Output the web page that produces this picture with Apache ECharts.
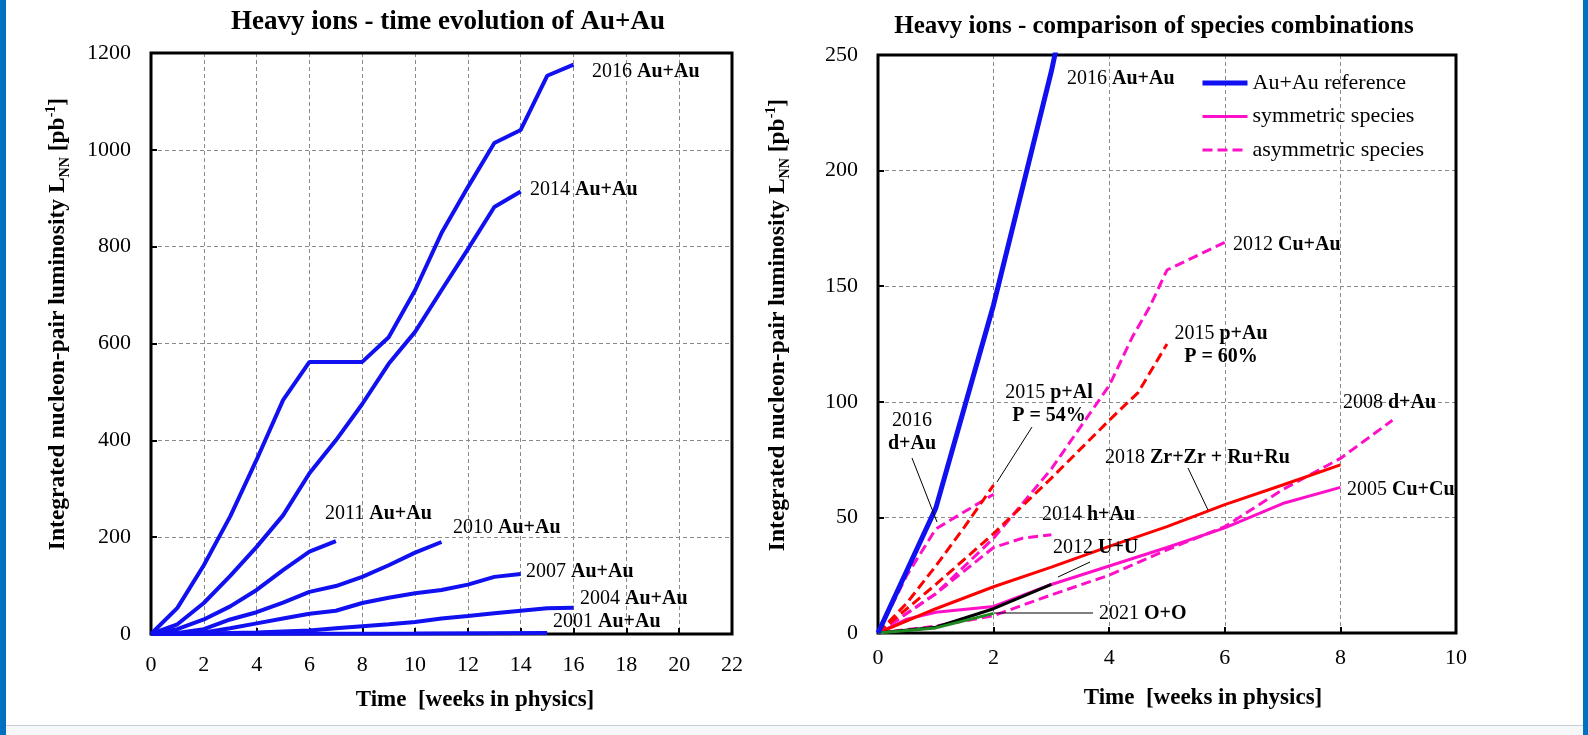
<!DOCTYPE html>
<html><head><meta charset="utf-8">
<script src="https://cdn.jsdelivr.net/npm/echarts@6/dist/echarts.min.js"></script>
<style>html,body{margin:0;padding:0;background:#fff}#c{width:1588px;height:735px}</style>
</head><body><div id="c"></div>
<script>
// ---------- tick labels ----------
const leftXTicks = [0,2,4,6,8,10,12,14,16,18,20,22];
const leftYTicks = [0,200,400,600,800,1000,1200];
const rightXTicks = [0,2,4,6,8,10];
const rightYTicks = [0,50,100,150,200,250];

// ---------- left chart: Au+Au runs [week, pb^-1] ----------
const au2016 = [[0,0],[1,54],[2,142],[3,243],[4,360],[5,483],[6,562],[7,562],[8,562],[9,613],[10,710],[11,828],[12,923],[13,1014],[14,1041],[15,1153],[16,1176]];
const au2014 = [[0,0],[1,20],[2,64],[3,120],[4,180],[5,245],[6,332],[7,400],[8,475],[9,558],[10,624],[11,710],[12,795],[13,882],[14,914]];
const au2011 = [[0,0],[1,10],[2,30],[3,57],[4,91],[5,132],[6,170],[7,192]];
const au2010 = [[0,0],[1,2],[2,10],[3,30],[4,45],[5,65],[6,87],[7,99],[8,118],[9,142],[10,168],[11,190]];
const au2007 = [[0,0],[2,3],[3,12],[4,22],[5,32],[6,42],[7,48],[8,64],[9,75],[10,84],[11,91],[12,102],[13,118],[14,124]];
const au2004 = [[0,0],[2,1],[4,3],[6,7],[7,12],[8,16],[9,20],[10,25],[11,32],[12,37],[13,43],[14,48],[15,53],[16,54]];
const au2001 = [[0,0],[5,0.5],[10,1],[15,2]];

// ---------- right chart: species combinations ----------
const cucu2005 = [[0,0],[0.5,6],[1,9],[2,11.5],[3,21],[4,29],[5,37],[6,45.5],[7,56],[8,63]];
const zrru2018 = [[0,0],[1,10.5],[2,20],[3,28.5],[4,37.5],[5,46],[6,55.5],[7,64],[8,72.7]];
const uu2012 = [[0,0],[1,2.5],[2,10.5],[3,21]];
const oo2021 = [[0,0],[1,2.2],[2,8.5]];
const cuau2012 = [[0,0],[1,17],[2,41],[3,71],[4,107],[4.4,128],[4.7,141],[5,157],[6,169]];
const pau2015 = [[0,0],[1,21],[2,43],[3,67],[4,92],[4.5,104],[5,125]];
const pal2015 = [[0,0],[0.5,13],[1,29],[1.5,46],[2,64]];
const dau2016 = [[0,0],[0.5,25],[1,45],[2,60]];
const hau2014 = [[0,0],[1,17],[1.5,27],[2,37],[2.5,41],[3,42.5]];
const dau2008 = [[0,0],[1,3],[2,7.5],[3,16.5],[4,25],[5,36],[6,46],[7,62],[8,75.5],[8.9,92]];

// ---------- styling ----------
const F = 'Liberation Serif';
const BLUE = '#1010F0', MAG = '#FF10C8', RED = '#FF0000', GREEN = '#1F8A1F', BLACK = '#000000';

function axis(ticks, gi, margin) {
  return {type:'value', gridIndex:gi, min:ticks[0], max:ticks[ticks.length-1], interval:ticks[1]-ticks[0],
    axisLine:{show:false},
    axisTick:{show:true, inside:true, length:6, lineStyle:{color:'#000', width:2}},
    axisLabel:{color:'#000', fontSize:22, fontFamily:F, margin:margin, formatter:(v)=>String(v)},
    splitLine:{show:true, lineStyle:{color:'#8a8a8a', width:1, type:[4,3]}}};
}
function line(name, data, xi, color, width, dashed, z) {
  return {type:'line', name, data, xAxisIndex:xi, yAxisIndex:xi, symbol:'none', smooth:false,
    z: z || 2, clip:true,
    lineStyle:{color, width, type: dashed ? [10,5] : 'solid'}, itemStyle:{color},
    emphasis:{disabled:true}, silent:true};
}

const R = {
  n:{fontFamily:F, fontSize:20, lineHeight:23, fill:'#000'},
  b:{fontFamily:F, fontSize:20, fontWeight:'bold', lineHeight:23, fill:'#000'}
};
function ann(x, y, text, align) {
  return {type:'text', x, y, z:50, style:{text, rich:R, fill:'#000', align:align||'left', verticalAlign:'middle', fontFamily:F, fontSize:20}};
}
function lead(x1, y1, x2, y2) {
  return {type:'line', z:50, shape:{x1,y1,x2,y2}, style:{stroke:'#000', lineWidth:1}};
}
const RT = {
  b:{fontFamily:F, fontSize:23, fontWeight:'bold', lineHeight:28, fill:'#000'},
  y:{fontFamily:F, fontSize:23.5, fontWeight:'bold', lineHeight:28, fill:'#000'},
  t1:{fontFamily:F, fontSize:27, fontWeight:'bold', lineHeight:30, fill:'#000'},
  t2:{fontFamily:F, fontSize:25, fontWeight:'bold', lineHeight:30, fill:'#000'},
  sub:{fontFamily:F, fontSize:14, fontWeight:'bold', lineHeight:14, verticalAlign:'bottom', fill:'#000'},
  sup:{fontFamily:F, fontSize:14, fontWeight:'bold', lineHeight:14, verticalAlign:'top', fill:'#000'}
};
const yTitle = '{y|Integrated nucleon-pair luminosity L}{sub|NN}{y| [pb}{sup|-1}{y|]}';
function txt(x, y, text, rot) {
  return {type:'text', x, y, rotation: rot||0, z:50,
    style:{text, rich:RT, fill:'#000', align:'center', verticalAlign:'middle', fontFamily:F, fontSize:23, fontWeight:'bold'}};
}

const chart = echarts.init(document.getElementById('c'), null, {renderer:'canvas'});
chart.setOption({
  animation:false,
  backgroundColor:'#ffffff',
  textStyle:{fontFamily:F},
  grid:[
    {left:151, top:53, width:581, height:581, outerBoundsMode:'none', containLabel:false},
    {left:878, top:55, width:578, height:578, outerBoundsMode:'none', containLabel:false}
  ],
  xAxis:[axis(leftXTicks,0,20), axis(rightXTicks,1,14)],
  yAxis:[axis(leftYTicks,0,20), axis(rightYTicks,1,20)],
  legend:{
    data:[
      {name:'Au+Au reference', lineStyle:{width:5}},
      {name:'symmetric species', lineStyle:{width:3}},
      {name:'asymmetric species', lineStyle:{width:3}}
    ],
    orient:'vertical', left:1200, top:71, padding:0, itemWidth:45, itemHeight:14, itemGap:9.5,
    selectedMode:false, backgroundColor:'transparent',
    itemStyle:{opacity:0, color:'transparent', borderWidth:0},
    textStyle:{fontFamily:F, fontSize:22, color:'#000', lineHeight:24}
  },
  series:[
    line('2001 Au+Au', au2001, 0, BLUE, 4),
    line('2004 Au+Au', au2004, 0, BLUE, 4),
    line('2007 Au+Au', au2007, 0, BLUE, 4),
    line('2010 Au+Au', au2010, 0, BLUE, 4),
    line('2011 Au+Au', au2011, 0, BLUE, 4),
    line('2014 Au+Au', au2014, 0, BLUE, 4),
    line('2016 Au+Au', au2016, 0, BLUE, 4),

    line('asymmetric species', dau2008, 1, MAG, 3, true),
    line('asymmetric species', cuau2012, 1, MAG, 3, true),
    line('asymmetric species', hau2014, 1, MAG, 3, true),
    line('asymmetric species', dau2016, 1, MAG, 3, true),
    line('2015 p+Au', pau2015, 1, RED, 3, true),
    line('2015 p+Al', pal2015, 1, RED, 3, true),
    line('symmetric species', cucu2005, 1, MAG, 3),
    line('2018 Zr+Zr + Ru+Ru', zrru2018, 1, RED, 3),
    line('2012 U+U', uu2012, 1, BLACK, 3),
    line('2021 O+O', oo2021, 1, GREEN, 3, false, 3),
    line('Au+Au reference', au2016, 1, BLUE, 5, false, 4)
  ],
  graphic:{elements:[
    {type:'rect', z:0, shape:{x:0,y:0,width:6,height:735}, style:{fill:'#0070C0'}},
    {type:'rect', z:0, shape:{x:1583,y:0,width:5,height:735}, style:{fill:'#0070C0'}},
    {type:'rect', z:0, shape:{x:6,y:726,width:1577,height:9}, style:{fill:'#f6f7f9'}},
    {type:'line', z:0, shape:{x1:6,y1:725.5,x2:1583,y2:725.5}, style:{stroke:'#c5ced8', lineWidth:1}},
    {type:'rect', z:1, shape:{x:151,y:53,width:581,height:581}, style:{fill:null, stroke:'#000', lineWidth:3}},
    {type:'rect', z:1, shape:{x:878,y:55,width:578,height:578}, style:{fill:null, stroke:'#000', lineWidth:3}},
    txt(448, 22, '{t1|Heavy ions - time evolution of Au+Au}', 0),
    txt(1154, 27, '{t2|Heavy ions - comparison of species combinations}', 0),
    txt(58, 324, yTitle, Math.PI/2),
    txt(778, 325, yTitle, Math.PI/2),
    txt(475, 700, '{b|Time  [weeks in physics]}', 0),
    txt(1203, 698, '{b|Time  [weeks in physics]}', 0),

    ann(592, 72, '{n|2016 }{b|Au+Au}'),
    ann(530, 190, '{n|2014 }{b|Au+Au}'),
    ann(325, 514, '{n|2011 }{b|Au+Au}'),
    ann(453, 528, '{n|2010 }{b|Au+Au}'),
    ann(526, 572, '{n|2007 }{b|Au+Au}'),
    ann(580, 599, '{n|2004 }{b|Au+Au}'),
    ann(553, 622, '{n|2001 }{b|Au+Au}'),

    ann(1067, 79, '{n|2016 }{b|Au+Au}'),
    ann(1233, 245, '{n|2012 }{b|Cu+Au}'),
    ann(1221, 345, '{n|2015 }{b|p+Au}\n{b|P = 60%}', 'center'),
    ann(1049, 404, '{n|2015 }{b|p+Al}\n{b|P = 54%}', 'center'),
    ann(912, 432, '{n|2016}\n{b|d+Au}', 'center'),
    ann(1105, 458, '{n|2018 }{b|Zr+Zr + Ru+Ru}'),
    ann(1343, 403, '{n|2008 }{b|d+Au}'),
    ann(1347, 490, '{n|2005 }{b|Cu+Cu}'),
    ann(1042, 515, '{n|2014 }{b|h+Au}'),
    ann(1053, 548, '{n|2012 }{b|U+U}'),
    ann(1099, 614, '{n|2021 }{b|O+O}'),

    lead(912, 458, 937, 522),
    lead(1032, 427, 997, 482),
    lead(1188, 468, 1208, 510),
    lead(1090, 562, 1058, 577),
    lead(994, 613, 1093, 613)
  ]}
});
</script></body></html>
